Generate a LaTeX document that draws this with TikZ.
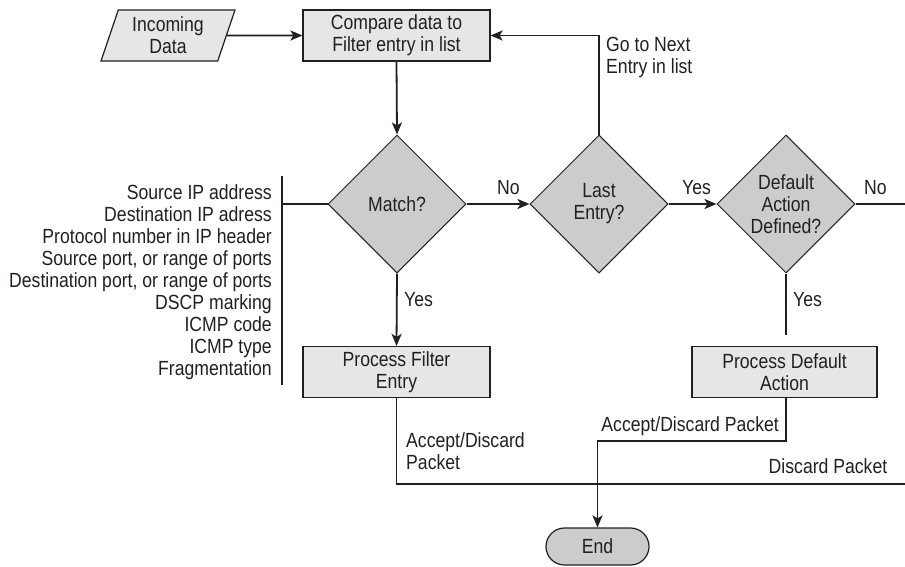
\documentclass[tikz,border=0pt]{standalone}
\usepackage{fontspec}
\setmainfont{Liberation Sans}[FakeStretch=0.86]
\usetikzlibrary{shapes.geometric,shapes.misc,arrows.meta}

\definecolor{ink}{HTML}{231F20}
\definecolor{boxfill}{HTML}{E6E6E6}
\definecolor{decfill}{HTML}{CCCCCC}

\tikzset{
  txt/.style={font=\fontsize{20.5}{22}\selectfont, text=ink},
  procbox/.style={txt, draw=ink, line width=1.2pt, fill=boxfill, align=center,
    minimum width=187pt, minimum height=51pt, inner sep=0pt},
  decision/.style={txt, draw=ink, line width=1pt, fill=decfill, shape=diamond,
    aspect=1, align=center, minimum width=138pt, minimum height=138pt, inner sep=0pt},
  iobox/.style={txt, draw=ink, line width=1.2pt, fill=boxfill, shape=trapezium,
    trapezium left angle=65, trapezium right angle=115, trapezium stretches body,
    align=center, minimum width=134pt, minimum height=51pt, inner sep=0pt},
  terminal/.style={txt, draw=ink, line width=1.2pt, fill=decfill, shape=rounded rectangle,
    minimum width=103pt, minimum height=37pt, inner sep=0pt},
  flow/.style={draw=ink, line width=1.8pt},
  flowarrow/.style={flow, -{Stealth[length=12pt,width=10pt,inset=3pt]}},
  lbl/.style={txt, inner sep=0pt},
}

\begin{document}
\begin{tikzpicture}[x=1pt,y=-1pt]
  \useasboundingbox (0,0) rectangle (905,566);

  % blocks
  \node[iobox]    (in)    at (168,35.5)   {Incoming\\Data};
  \node[procbox]  (cmp)   at (396.5,35.5) {Compare data to\\Filter entry in list};
  \node[decision] (match) at (397,204)    {Match?};
  \node[decision] (last)  at (599,204)    {Last\\Entry?};
  \node[decision] (dflt)  at (786,204)    {Default\\Action\\Defined?};
  \node[procbox]  (pfe)   at (396.5,372)  {Process Filter\\Entry};
  \node[procbox, minimum width=185pt] (pda) at (784.5,372) {Process Default\\Action};
  \node[terminal] (end)   at (597.5,546.5) {End};

  % list of compared fields with its bracket
  \node[lbl, align=right, anchor=east] (fields) at (272,282)
    {Source IP address\\Destination IP adress\\Protocol number in IP header\\
     Source port, or range of ports\\Destination port, or range of ports\\
     DSCP marking\\ICMP code\\ICMP type\\Fragmentation};
  \coordinate (brtop) at (282,176);
  \coordinate (brbot) at (282,385);
  \coordinate (brmid) at (282,204);
  \draw[draw=ink, line width=1.3pt] (brtop) -- (brbot);
  \draw[draw=ink, line width=1.3pt] (brmid) -- (match.west);

  % main flow
  \draw[flowarrow] (in.east) -- (cmp.west);
  \draw[flowarrow] (cmp.south) -- (match.north);
  \draw[flowarrow] (match.east) -- (last.west);
  \draw[flowarrow] (last.east) -- (dflt.west);
  \draw[flowarrow] (last.north) |- (cmp.east);
  \draw[flowarrow] (match.south) -- (pfe.north);

  % default action branch
  \coordinate (dyes) at (786,335);
  \draw[flow] (dflt.south) -- (dyes);
  \coordinate (dno) at (905,204);
  \draw[flow] (dflt.east) -- (dno);

  % exits towards the end
  \coordinate (pfecorner) at (396.5,484);
  \coordinate (rightexit) at (905,484);
  \draw[flow] (pfe.south) -- (pfecorner) -- (rightexit);
  \coordinate (pdaturn) at (786,441);
  \coordinate (endturn) at (597.5,441);
  \draw[flowarrow] (pda.south -| pdaturn) -- (pdaturn) -- (endturn) -- (end.north);

  % labels
  \node[lbl, anchor=west] (nolbl1)  at (497,188) {No};
  \node[lbl, anchor=west] (yeslbl1) at (682,188) {Yes};
  \node[lbl, anchor=west] (nolbl2)  at (864,188) {No};
  \node[lbl, anchor=west] (yeslbl2) at (404,300) {Yes};
  \node[lbl, anchor=west] (yeslbl3) at (793,300) {Yes};
  \node[lbl, anchor=west, align=left] (nextlbl) at (606,57) {Go to Next\\Entry in list};
  \node[lbl, anchor=west, align=left] (acc1) at (406,451) {Accept/Discard\\Packet};
  \node[lbl, anchor=east] (acc2) at (779,426) {Accept/Discard Packet};
  \node[lbl] (disc) at (828,466) {Discard Packet};
\end{tikzpicture}
\end{document}
